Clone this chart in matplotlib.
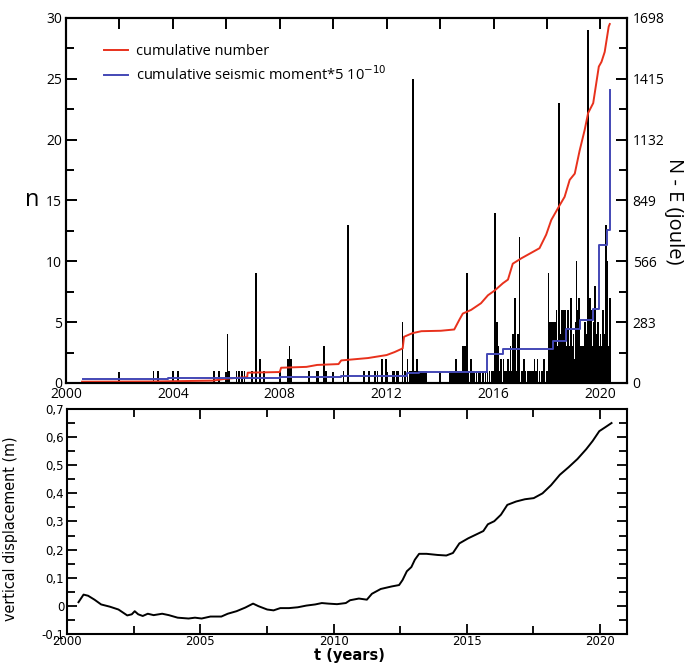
"""
Seismicity counts, cumulative number / seismic moment and vertical ground displacement.
"""

import matplotlib
matplotlib.use("Agg")
import matplotlib.pyplot as plt
from matplotlib.ticker import MultipleLocator, FuncFormatter

# Monthly counts (black bars): time in decimal years, n events
bar_years = [2003.28, 2003.44, 2004.00, 2004.20, 2005.53, 2005.72, 2006.05, 2006.10,
             2006.38, 2006.47, 2006.59, 2006.68, 2006.97, 2007.12, 2007.27, 2007.40,
             2008.03, 2008.30, 2008.37, 2008.43, 2009.09, 2009.38, 2009.44, 2009.66,
             2009.72, 2010.38, 2010.56, 2011.16, 2011.34, 2011.57, 2011.66, 2011.82,
             2011.97, 2012.22, 2012.28, 2012.37, 2012.43, 2012.60, 2012.68, 2012.78,
             2012.85, 2012.90, 2012.96, 2012.99, 2013.05, 2013.13, 2013.20, 2013.28,
             2013.34, 2013.40, 2013.47, 2014.38, 2014.45, 2014.52, 2014.60, 2014.66,
             2014.72, 2014.78, 2014.85, 2014.93, 2015.00, 2015.06, 2015.16, 2015.22,
             2015.28, 2015.36, 2015.43, 2015.50, 2015.60, 2015.70, 2015.78, 2015.85,
             2015.92, 2015.98, 2016.06, 2016.12, 2016.18, 2016.24, 2016.28, 2016.37,
             2016.42, 2016.47, 2016.54, 2016.60, 2016.63, 2016.68, 2016.72, 2016.77,
             2016.81, 2016.86, 2016.91, 2016.97, 2017.06, 2017.10, 2017.15, 2017.20,
             2017.28, 2017.35, 2017.41, 2017.47, 2017.53, 2017.58, 2017.64, 2017.72,
             2017.81, 2017.89, 2018.01, 2018.06, 2018.10, 2018.13, 2018.16, 2018.19,
             2018.22, 2018.25, 2018.29, 2018.32, 2018.35, 2018.38, 2018.41, 2018.45,
             2018.50, 2018.53, 2018.56, 2018.60, 2018.64, 2018.69, 2018.72, 2018.76,
             2018.79, 2018.83, 2018.87, 2018.91, 2018.95, 2018.99, 2019.03, 2019.06,
             2019.10, 2019.13, 2019.16, 2019.19, 2019.23, 2019.26, 2019.30, 2019.34,
             2019.38, 2019.42, 2019.45, 2019.48, 2019.51, 2019.54, 2019.57, 2019.60,
             2019.63, 2019.66, 2019.70, 2019.73, 2019.76, 2019.79, 2019.82, 2019.85,
             2019.88, 2019.91, 2019.95, 2019.98, 2020.01, 2020.05, 2020.08, 2020.10,
             2020.13, 2020.16, 2020.20, 2020.23, 2020.25, 2020.29, 2020.35]
bar_n = [1, 1, 1, 1, 1, 1, 4, 1,
         1, 1, 1, 1, 1, 9, 2, 1,
         1, 2, 3, 2, 1, 1, 1, 3,
         1, 1, 13, 1, 1, 1, 1, 2,
         2, 1, 1, 1, 1, 5, 1, 2,
         1, 1, 3, 25, 1, 2, 1, 1,
         1, 1, 1, 1, 1, 1, 2, 1,
         1, 1, 3, 3, 9, 1, 2, 1,
         1, 1, 1, 1, 1, 1, 1, 1,
         1, 1, 14, 5, 3, 1, 2, 2,
         1, 1, 2, 1, 3, 1, 4, 1,
         7, 1, 4, 12, 1, 1, 2, 1,
         1, 1, 1, 1, 2, 1, 2, 1,
         1, 2, 1, 9, 5, 3, 5, 2,
         5, 3, 5, 2, 6, 1, 3, 23,
         4, 2, 6, 3, 6, 6, 2, 3,
         6, 3, 2, 7, 3, 4, 2, 5,
         10, 3, 6, 7, 3, 1, 3, 2,
         3, 5, 2, 4, 6, 29, 3, 7,
         4, 6, 3, 2, 5, 8, 3, 2,
         4, 5, 3, 2, 4, 3, 5, 6,
         3, 4, 13, 5, 10, 3, 7]

# Cumulative number N (right axis units)
cum_years = [2000.60, 2003.30, 2005.50, 2006.00, 2006.50, 2006.78, 2006.80, 2008.00,
             2008.05, 2009.00, 2009.40, 2010.20, 2010.30, 2011.30, 2012.00, 2012.30,
             2012.60, 2012.65, 2012.97, 2013.30, 2014.03, 2014.53, 2014.72, 2014.85,
             2015.16, 2015.53, 2015.79, 2016.04, 2016.35, 2016.54, 2016.72, 2017.04,
             2017.72, 2017.97, 2018.16, 2018.47, 2018.66, 2018.85, 2019.04, 2019.22,
             2019.41, 2019.54, 2019.73, 2019.94, 2020.04, 2020.16, 2020.31, 2020.35]
cum_number = [6, 7, 11, 20, 25, 27, 48, 51,
              71, 75, 84, 88, 105, 116, 130, 144,
              161, 215, 232, 241, 243, 249, 294, 323,
              340, 371, 408, 430, 464, 481, 555, 580,
              627, 690, 758, 826, 866, 945, 974, 1080,
              1177, 1256, 1302, 1472, 1494, 1540, 1658, 1670]

# Cumulative seismic moment * 5e-10 (right axis units, step)
mom_years = [2000.62, 2003.80, 2006.00, 2008.00, 2010.30, 2011.50, 2012.78, 2013.20,
             2015.76, 2016.35, 2018.22, 2018.72, 2019.22, 2019.72, 2019.94, 2020.26,
             2020.35]
cum_moment = [17, 23, 25, 28, 31, 34, 48, 51,
              135, 156, 197, 249, 294, 345, 640, 713,
              1364]

# Vertical displacement (m)
disp_years = [2000.43, 2000.62, 2000.79, 2001.03, 2001.28, 2001.61, 2001.93, 2002.26,
              2002.43, 2002.54, 2002.67, 2002.84, 2003.03, 2003.25, 2003.57, 2003.82,
              2004.15, 2004.56, 2004.80, 2005.05, 2005.38, 2005.79, 2006.03, 2006.36,
              2006.69, 2006.98, 2007.18, 2007.51, 2007.75, 2008.00, 2008.33, 2008.66,
              2008.98, 2009.31, 2009.56, 2009.80, 2010.13, 2010.46, 2010.62, 2010.95,
              2011.25, 2011.44, 2011.77, 2012.18, 2012.46, 2012.59, 2012.75, 2012.92,
              2013.05, 2013.21, 2013.49, 2013.90, 2014.23, 2014.48, 2014.72, 2015.05,
              2015.38, 2015.62, 2015.79, 2016.03, 2016.28, 2016.52, 2016.85, 2017.18,
              2017.51, 2017.84, 2018.16, 2018.49, 2018.82, 2019.15, 2019.48, 2019.72,
              2019.97, 2020.21, 2020.43]
displacement = [0.013, 0.040, 0.036, 0.022, 0.005, -0.003, -0.013, -0.034,
                -0.030, -0.019, -0.030, -0.036, -0.028, -0.033, -0.028, -0.033,
                -0.042, -0.045, -0.042, -0.045, -0.038, -0.038, -0.028, -0.019,
                -0.006, 0.008, -0.001, -0.013, -0.016, -0.008, -0.008, -0.005,
                0.001, 0.005, 0.010, 0.008, 0.006, 0.010, 0.020, 0.026,
                0.022, 0.043, 0.060, 0.069, 0.074, 0.092, 0.123, 0.138,
                0.164, 0.185, 0.185, 0.181, 0.179, 0.188, 0.222, 0.240,
                0.255, 0.266, 0.290, 0.301, 0.324, 0.359, 0.371, 0.379,
                0.383, 0.400, 0.429, 0.466, 0.493, 0.522, 0.557, 0.586,
                0.621, 0.636, 0.650]

top_xticks = list(range(2000, 2021, 2))
top_xlabels = [str(y) if y % 4 == 0 else "" for y in top_xticks]
right_ticks = [0, 283, 566, 849, 1132, 1415, 1698]

font_top = ["Open Sans", "DejaVu Sans"]
red = "#e8311c"
blue = "#4348b5"

fig = plt.figure(figsize=(6.86, 6.64), dpi=100)
ax1 = fig.add_axes([0.0962, 0.4232, 0.818, 0.5497])
ax1r = ax1.twinx()
ax2 = fig.add_axes([0.0977, 0.0452, 0.8159, 0.3389])

# ---- top panel
ax1.bar(bar_years, bar_n, width=0.06, color="black", linewidth=0, zorder=2)
l1, = ax1r.plot(cum_years, cum_number, color=red, lw=1.4, label="cumulative number")
l2, = ax1r.plot(mom_years, cum_moment, color=blue, lw=1.4, drawstyle="steps-post",
                label="cumulative seismic moment*5 10$^{-10}$")

ax1.set_xlim(2000, 2021)
ax1.set_ylim(0, 30)
ax1r.set_ylim(0, 1698)
ax1.set_xticks(top_xticks)
ax1.set_xticklabels(top_xlabels, family=font_top, fontsize=10)
ax1.yaxis.set_major_locator(MultipleLocator(5))
ax1.yaxis.set_minor_locator(MultipleLocator(2.5))
for lab in ax1.get_yticklabels():
    lab.set_family(font_top)
    lab.set_fontsize(10)
ax1r.set_yticks(right_ticks)
ax1r.set_yticks([141.5 + 283 * i for i in range(6)], minor=True)
ax1r.set_yticklabels([str(v) for v in right_ticks], family=font_top, fontsize=10)

ax1.tick_params(which="both", direction="in", top=True, right=False, width=1.4)
ax1.tick_params(which="major", length=8, pad=3)
ax1.tick_params(which="minor", length=6)
ax1r.tick_params(which="both", direction="in", width=1.4)
ax1r.tick_params(which="major", length=8, pad=4)
ax1r.tick_params(which="minor", length=6)
for ax in (ax1, ax1r):
    for s in ax.spines.values():
        s.set_linewidth(1.5)

ax1.set_ylabel("n", rotation=0, family=font_top, fontsize=17, ha="center", va="center")
ax1.yaxis.set_label_coords(-0.06, 0.50)
ax1r.set_ylabel("N - E (joule)", rotation=-90, family=font_top, fontsize=14.5,
                ha="center", va="center")
ax1r.yaxis.set_label_coords(1.084, 0.47)

ax1r.legend(handles=[l1, l2], loc="upper left", bbox_to_anchor=(0.045, 0.965),
            frameon=False, handlelength=1.6, handletextpad=0.6, labelspacing=0.45,
            prop={"family": font_top, "size": 10.5})

# ---- bottom panel
ax2.plot(disp_years, displacement, color="black", lw=1.4)
ax2.set_xlim(2000, 2021)
ax2.set_ylim(-0.1, 0.7)
ax2.xaxis.set_major_locator(MultipleLocator(5))
ax2.xaxis.set_minor_locator(MultipleLocator(2.5))
ax2.yaxis.set_major_locator(MultipleLocator(0.1))
ax2.yaxis.set_minor_locator(MultipleLocator(0.05))
ax2.yaxis.set_major_formatter(FuncFormatter(
    lambda v, p: "0" if abs(v) < 1e-9 else f"{v:.1f}".replace(".", ",")))
ax2.tick_params(which="both", direction="in", top=True, right=True, width=1.3,
                labelsize=8.5)
ax2.tick_params(which="major", length=7, pad=2)
ax2.tick_params(axis="x", which="major", pad=1)
ax2.tick_params(which="minor", length=6)
for s in ax2.spines.values():
    s.set_linewidth(1.5)

ax2.set_xlabel("t (years)", fontsize=10.5, fontweight="bold", va="center")
ax2.xaxis.set_label_coords(0.505, -0.097)
ax2.set_ylabel("vertical displacement (m)", fontsize=11.5,
               family=["Liberation Sans Narrow", "DejaVu Sans"], fontstretch="condensed")
ax2.yaxis.set_label_coords(-0.088, 0.47)

fig.savefig("out.png", dpi=100)
